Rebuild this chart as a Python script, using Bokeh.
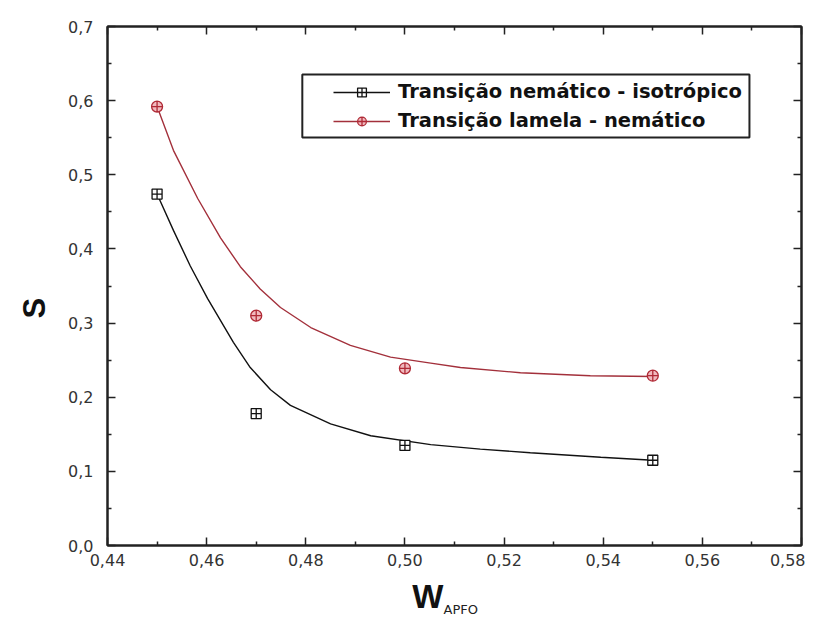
from bokeh.plotting import figure
from bokeh.layouts import column
from bokeh.models import (LinearAxis, FixedTicker, Legend, LegendItem, Label,
                          BoxAnnotation, Range1d, Title, CustomJSTickFormatter)
from bokeh.embed import file_html
from bokeh.resources import INLINE

# ---- data ----
x_points = [0.45, 0.47, 0.50, 0.55]
ni_values = [0.474, 0.178, 0.135, 0.115]      # Transição nemático - isotrópico
ln_values = [0.592, 0.310, 0.239, 0.229]      # Transição lamela - nemático

ni_fit_x = [0.450, 0.4533, 0.4567, 0.4602, 0.4654, 0.4688, 0.4729, 0.4769,
            0.4850, 0.4931, 0.5052, 0.5152, 0.5253, 0.5395, 0.550]
ni_fit_y = [0.474, 0.425, 0.377, 0.333, 0.274, 0.240, 0.210, 0.189,
            0.164, 0.148, 0.136, 0.130, 0.125, 0.119, 0.115]

ln_fit_x = [0.450, 0.4533, 0.4582, 0.4628, 0.4668, 0.4708, 0.4749, 0.4810,
            0.4890, 0.4971, 0.5052, 0.5112, 0.5233, 0.5374, 0.550]
ln_fit_y = [0.592, 0.533, 0.468, 0.415, 0.376, 0.346, 0.321, 0.294,
            0.270, 0.254, 0.246, 0.240, 0.233, 0.229, 0.228]

series_names = ["Transição nemático - isotrópico", "Transição lamela - nemático"]

x_ticks = [0.44, 0.46, 0.48, 0.50, 0.52, 0.54, 0.56, 0.58]
x_tick_labels = ["0,44", "0,46", "0,48", "0,50", "0,52", "0,54", "0,56", "0,58"]
x_minor = [0.45, 0.47, 0.49, 0.51, 0.53, 0.55, 0.57]
y_ticks = [0.0, 0.1, 0.2, 0.3, 0.4, 0.5, 0.6, 0.7]
y_tick_labels = ["0,0", "0,1", "0,2", "0,3", "0,4", "0,5", "0,6", "0,7"]
y_minor = [0.05, 0.15, 0.25, 0.35, 0.45, 0.55, 0.65]

y_title = "S"
x_title = "W"
x_title_sub = "APFO"

# ---- main figure ----
p = figure(width=805, height=575,
           x_range=Range1d(0.44, 0.58), y_range=Range1d(0.0, 0.7),
           output_backend="svg", toolbar_location=None,
           min_border_left=107, min_border_right=4,
           min_border_top=26, min_border_bottom=30)
p.xgrid.visible = False
p.ygrid.visible = False
p.outline_line_color = "#222222"
p.outline_line_width = 2
p.background_fill_color = "white"
p.border_fill_color = "white"

AX = "#222222"

def style_axis(ax, ticks, minor, labels, show_labels):
    ax.ticker = FixedTicker(ticks=ticks, minor_ticks=minor)
    ax.axis_line_color = AX
    ax.axis_line_width = 2
    ax.major_tick_line_color = AX
    ax.major_tick_line_width = 1.5
    ax.minor_tick_line_color = AX
    ax.minor_tick_line_width = 1.5
    ax.major_tick_in = 8
    ax.major_tick_out = 0
    ax.minor_tick_in = 4
    ax.minor_tick_out = 0
    if show_labels:
        ax.major_label_overrides = {t: l for t, l in zip(ticks, labels)}
        ax.major_label_text_font = "DejaVu Sans"
        ax.major_label_text_font_size = "16px"
        ax.major_label_text_color = "#333333"
    else:
        ax.formatter = CustomJSTickFormatter(code="return ''")
        ax.major_label_text_font_size = "8px"
        ax.major_label_standoff = 0

style_axis(p.xaxis[0], x_ticks, x_minor, x_tick_labels, True)
style_axis(p.yaxis[0], y_ticks, y_minor, y_tick_labels, True)
p.xaxis[0].major_label_standoff = 8
p.yaxis[0].major_label_standoff = 14

top_ax = LinearAxis()
style_axis(top_ax, x_ticks, x_minor, x_tick_labels, False)
p.add_layout(top_ax, "above")
right_ax = LinearAxis()
style_axis(right_ax, y_ticks, y_minor, y_tick_labels, False)
p.add_layout(right_ax, "right")

# y title "S" (rotated, outside the axis labels)
p.add_layout(Title(text=y_title, align="left", offset=227, vertical_align="middle",
                   standoff=26, text_font="Liberation Sans", text_font_size="31px",
                   text_font_style="bold", text_color="#111111"), "left")

# ---- series ----
RED_LINE = "#a3303b"
ni_line = p.line(ni_fit_x, ni_fit_y, line_color="#111111", line_width=1.4)
ni_pts = p.scatter(x_points, ni_values, marker="square_cross", size=10,
                   line_color="#111111", fill_color="white", line_width=1.3)
ln_line = p.line(ln_fit_x, ln_fit_y, line_color=RED_LINE, line_width=1.4)
ln_pts = p.scatter(x_points, ln_values, marker="circle_cross", size=11,
                   line_color="#b02a36", fill_color="#f1b9be", line_width=1.3)

# legend frame
box = BoxAnnotation(left=0.4793, right=0.5695, bottom=0.5503, top=0.6353,
                    fill_alpha=0, fill_color=None,
                    line_color="#222222", line_width=2, line_alpha=1)
p.add_layout(box)

legend = Legend(items=[LegendItem(label=series_names[0], renderers=[ni_line, ni_pts]),
                       LegendItem(label=series_names[1], renderers=[ln_line, ln_pts])],
                location=(221, 408), orientation="vertical",
                border_line_alpha=0, background_fill_alpha=0,
                padding=5, spacing=6, margin=0,
                glyph_width=57, glyph_height=22, label_height=22,
                label_standoff=8,
                label_text_font="DejaVu Sans", label_text_font_size="19.5px",
                label_text_font_style="bold", label_text_color="#111111")
p.add_layout(legend, "center")

# ---- strip below the chart holding the x title  W_APFO (shares the x scale) ----
p2 = figure(width=805, height=41, x_range=p.x_range, y_range=Range1d(0, 41),
            x_axis_type=None, y_axis_type=None, output_backend="svg",
            toolbar_location=None, title=None,
            min_border_left=107, min_border_right=4,
            min_border_top=0, min_border_bottom=0)
p2.outline_line_color = None
p2.xgrid.visible = False
p2.ygrid.visible = False
p2.add_layout(Label(x=0.5046, y=20, text=x_title, text_align="center",
                    text_baseline="alphabetic", text_font="Liberation Sans",
                    text_font_size="33px", text_font_style="bold",
                    text_color="#111111"))
p2.add_layout(Label(x=0.5078, y=7, text=x_title_sub, text_align="left",
                    text_baseline="alphabetic", text_font="DejaVu Sans",
                    text_font_size="13px", text_color="#222222"))

layout = column(p, p2, spacing=0)
open("out.html", "w").write(file_html(layout, INLINE))
